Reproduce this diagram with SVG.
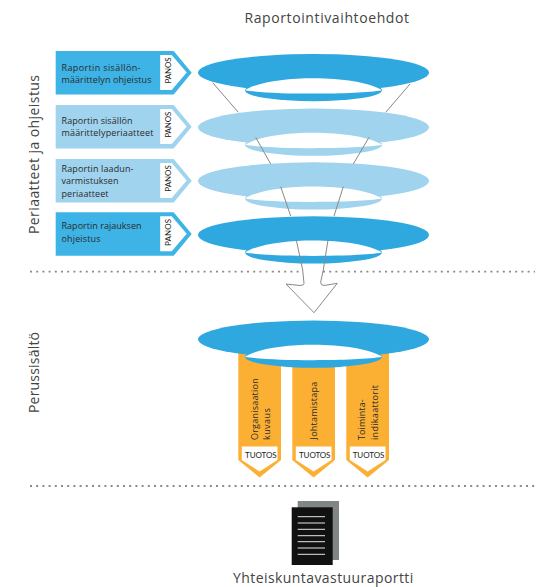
<svg xmlns="http://www.w3.org/2000/svg" width="557" height="587" viewBox="0 0 557 587">
<style>
text{font-family:"Open Sans","Noto Sans","Liberation Sans",sans-serif;fill:#2b2b2b}
.b{font-size:9px}
.p{font-family:Lato,"Open Sans",sans-serif;font-size:8px;fill:#222}
.h{font-size:14px;fill:#444}
.dark{fill:#2fa8e0}
.light{fill:#9fd3ee}
.bd{fill:#3db3e6}
.w{fill:#fff}
.o{fill:#fbb034}
.dot{fill:none;stroke:#8a8a8a;stroke-width:1.8;stroke-dasharray:2 4.2}
.fl{fill:none;stroke:#8a8989;stroke-width:1}
</style>
<defs>
<g id="ring"><ellipse cx="313.5" cy="0" rx="115.5" ry="18.7"/><ellipse cx="313.5" cy="17.5" rx="68.5" ry="11"/></g>
<path id="hole" class="w" d="M245 17.5C270 1.5 357 1.5 382 17.5C357 22 270 22 245 17.5Z"/>
<path id="tag" d="M0 0H118L136 21.7L118 43.4H0Z"/>
<path id="tagw" class="w" d="M104.5 4H116L131 21.5L116 39H104.5Z"/>
<path id="bar" class="o" d="M0 0H42.7V107L21.3 124.5L0 107Z"/>
<path id="barw" class="w" d="M3.5 93.5H39.2V107L21.3 118.5L3.5 107Z"/>
</defs>
<g id="rings">
<g id="ring-1" class="dark" transform="translate(0 72.7)"><use href="#ring"/><use href="#hole"/></g>
<g id="ring-2" class="light" transform="translate(0 127.3)"><use href="#ring"/><use href="#hole"/></g>
<g id="ring-3" class="light" transform="translate(0 181)"><use href="#ring"/><use href="#hole"/></g>
<g id="ring-4" class="dark" transform="translate(0 235)"><use href="#ring"/><use href="#hole"/></g>
</g>
<g id="connectors">
<path class="fl" d="M212.7 82.7L238.3 112.3M255.7 137.3L270.7 164M280.7 186.7L290.7 216M296.3 240L302.7 270L304 283.5Q304 285.5 300 285.5L286 284L314 312.7L337.3 283.3L324 285.5Q320.5 285.5 320.7 282L323.3 270L328 240M410 84L385.7 112.3M369 137.3L353.3 164M343.3 186.7L334 216"/>
<path class="dot" d="M30 271.7H302M323 271.7H535"/>
<path class="dot" d="M30 486H535"/>
</g>
<g id="tag-1"><use href="#tag" class="bd" transform="translate(55.7 51)"/><use href="#tagw" transform="translate(55.7 51)"/>
<text class="b" x="61.5" y="70.5" textLength="79">Raportin sisällön-</text><text class="b" x="61.5" y="82.5" textLength="90">määrittelyn ohjeistus</text>
<text class="p" transform="translate(170.7 83.5) rotate(-90)" textLength="26">PANOS</text></g>
<g id="tag-2"><use href="#tag" class="light" transform="translate(55.7 105)"/><use href="#tagw" transform="translate(55.7 105)"/>
<text class="b" x="61.5" y="124" textLength="71">Raportin sisällön</text><text class="b" x="61.5" y="135.7" textLength="92">määrittelyperiaatteet</text>
<text class="p" transform="translate(170.7 137.7) rotate(-90)" textLength="26">PANOS</text></g>
<g id="tag-3"><use href="#tag" class="light" transform="translate(55.7 159)"/><use href="#tagw" transform="translate(55.7 159)"/>
<text class="b" x="61.5" y="172.3" textLength="72">Raportin laadun-</text><text class="b" x="61.5" y="184" textLength="57">varmistuksen</text><text class="b" x="61.5" y="196.7" textLength="47">periaatteet</text>
<text class="p" transform="translate(170.7 191.7) rotate(-90)" textLength="26.5">PANOS</text></g>
<g id="tag-4"><use href="#tag" class="bd" transform="translate(55.7 212.3)"/><use href="#tagw" transform="translate(55.7 212.3)"/>
<text class="b" x="61.5" y="229" textLength="80">Raportin rajauksen</text><text class="b" x="61.5" y="241.7" textLength="39">ohjeistus</text>
<text class="p" transform="translate(170.7 246) rotate(-90)" textLength="27">PANOS</text></g>
<g id="bar-1" transform="translate(238.3 353)"><use href="#bar"/><use href="#barw"/></g>
<g id="bar-2" transform="translate(292.3 353)"><use href="#bar"/><use href="#barw"/></g>
<g id="bar-3" transform="translate(346.3 353)"><use href="#bar"/><use href="#barw"/></g>
<g id="ring-5" class="dark" transform="translate(0 339.3)"><use href="#ring"/><use href="#hole"/></g>
<g id="bar-labels">
<text class="b" transform="translate(257.7 440) rotate(-90)" textLength="61.7">Organisaation</text>
<text class="b" transform="translate(270 440) rotate(-90)" textLength="31.7">kuvaus</text>
<text class="b" transform="translate(316.7 439.5) rotate(-90)" textLength="57.8">Johtamistapa</text>
<text class="b" transform="translate(365 440) rotate(-90)" textLength="40.7">Toiminta-</text>
<text class="b" transform="translate(378.3 440) rotate(-90)" textLength="55">indikaattorit</text>
<text class="p" x="245" y="457.7" textLength="31.7">TUOTOS</text><text class="p" x="299" y="457.7" textLength="31.4">TUOTOS</text><text class="p" x="352.7" y="457.7" textLength="31.6">TUOTOS</text>
</g>
<g id="report">
<rect x="297.7" y="501" width="41.3" height="59" fill="#7f8685"/>
<rect x="291.7" y="507.3" width="41" height="57.7" fill="#111"/>
<path d="M297.7 516.7H325M297.7 523H325M297.7 529.3H325M297.7 535.7H325M297.7 541.7H325M297.7 548H325M297.7 554.3H325" stroke="#e6e6e6" stroke-width="1" fill="none"/>
</g>
<text class="h" x="244.5" y="22.7" textLength="164.5">Raportointivaihtoehdot</text>
<text class="h" x="233" y="583.3" textLength="180.3">Yhteiskuntavastuuraportti</text>
<text class="h" transform="translate(39 234) rotate(-90)" textLength="159">Periaatteet ja ohjeistus</text>
<text class="h" transform="translate(39 413) rotate(-90)" textLength="81">Perussisältö</text>
</svg>
